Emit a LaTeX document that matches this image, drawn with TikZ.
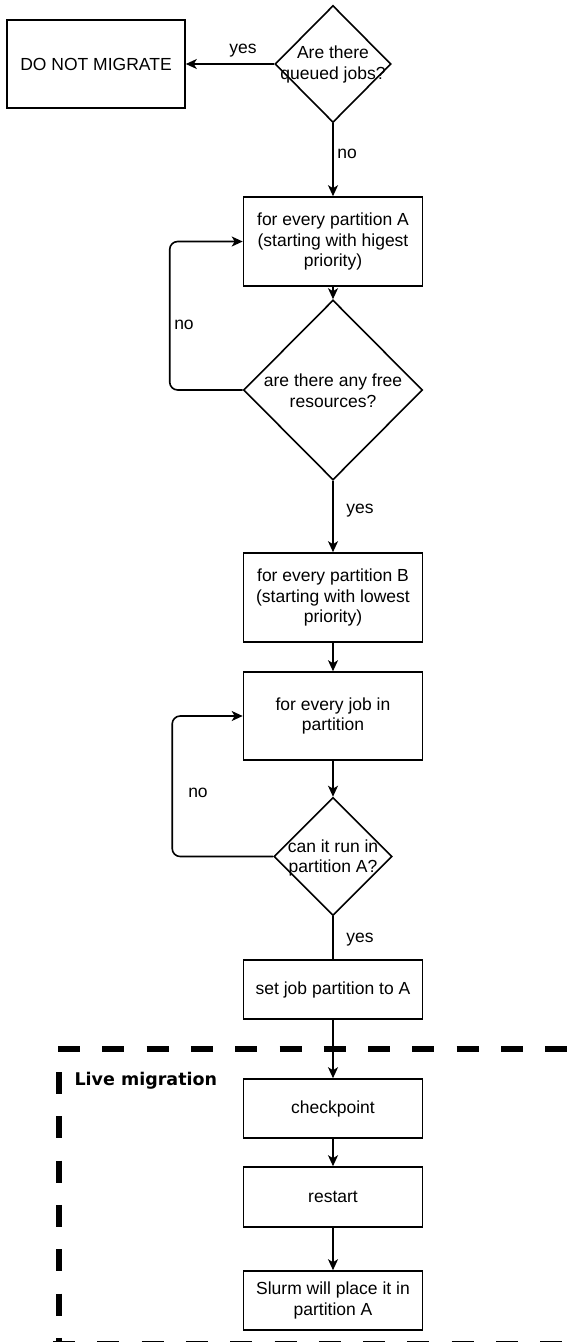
\documentclass[tikz,border=0pt]{standalone}
\usepackage{fontspec}
\setmainfont{Liberation Sans}
\newfontfamily\titlefont{DejaVu Sans}
\usetikzlibrary{shapes.geometric,arrows.meta}

\begin{document}
\begin{tikzpicture}[x=1pt, y=-1pt,
    every node/.style={font=\fontsize{17.5}{20.5}\selectfont},
    stepbox/.style={draw, line width=1.6pt, minimum width=179pt, align=center, inner sep=2pt},
    decision/.style={diamond, draw, line width=1.6pt, inner sep=0pt},
    flow/.style={-{Stealth[length=11pt, width=10pt, inset=3pt]}, line width=1.6pt},
    frame/.style={line width=6pt, dash pattern=on 22pt off 22.3pt}]
    \useasboundingbox (0,0) rectangle (579,1342);
    % Nodes
    \node[decision, minimum width=116pt, minimum height=117pt] (queued) at (333,64) {};
    \node[align=center] (queuedtxt) at (333,64.5) {Are there\\queued jobs?};
    \node[stepbox, minimum width=178pt, minimum height=88pt] (nomigrate) at (96,64) {DO NOT MIGRATE};
    \node[stepbox, minimum height=89pt] (partA) at (333,241.5) {for every partition A\\(starting with higest\\priority)};
    \node[decision, minimum width=179pt, minimum height=180pt] (free) at (333,390) {};
    \node[align=center] (freetxt) at (333,390.5) {are there any free\\resources?};
    \node[stepbox, minimum height=89pt] (partB) at (333,597.5) {for every partition B\\(starting with lowest\\priority)};
    \node[stepbox, minimum height=88pt] (job) at (333,716) {for every job in\\partition};
    \node[decision, minimum width=118pt, minimum height=118pt] (canrun) at (333,856.5) {};
    \node[align=center] (canruntxt) at (333,858) {can it run in\\partition A?};
    \node[stepbox, minimum height=59pt] (setpart) at (333,989.5) {set job partition to A};
    \node[stepbox, minimum height=59pt] (checkpoint) at (333,1108.5) {checkpoint};
    \node[stepbox, minimum height=60pt] (restart) at (333,1197) {restart};
    \node[stepbox, minimum height=59pt] (slurm) at (333,1300.5) {Slurm will place it in\\partition A};
    % Labels
    \node (yes1) at (243,51) {yes};
    \node (no1) at (347,154) {no};
    \node (no2) at (184,325) {no};
    \node (yes2) at (360,511) {yes};
    \node (no3) at (198,793) {no};
    \node (yes3) at (360,940) {yes};
    \node[anchor=west, font=\titlefont\bfseries\fontsize{17.5}{20}\selectfont] (live) at (71,1081) {Live migration};
    % Live migration frame
    \begin{scope}
        \clip (0,0) rectangle (579,1342);
        \draw[frame] (58,1049) -- (600,1049);
        \draw[frame] (58.5,1072) -- (58.5,1360);
        \draw[frame, line width=4pt] (53,1342.5) -- (600,1342.5);
    \end{scope}
    % Edges
    \draw[flow] (queued.west) -- (nomigrate.east);
    \draw[flow] (queued.south) -- (partA.north);
    \draw[flow] (partA.south) -- (free.north);
    \draw[flow, rounded corners=8pt] (free.west) -- ++(-73,0) |- (partA.west);
    \draw[flow] (free.south) -- (partB.north);
    \draw[flow] (partB.south) -- (job.north);
    \draw[flow] (job.south) -- (canrun.north);
    \draw[flow, rounded corners=8pt] (canrun.west) -- ++(-101,0) |- (job.west);
    \draw[line width=1.6pt] (canrun.south) -- (setpart.north);
    \draw[flow] (setpart.south) -- (checkpoint.north);
    \draw[flow] (checkpoint.south) -- (restart.north);
    \draw[flow] (restart.south) -- (slurm.north);
\end{tikzpicture}
\end{document}
